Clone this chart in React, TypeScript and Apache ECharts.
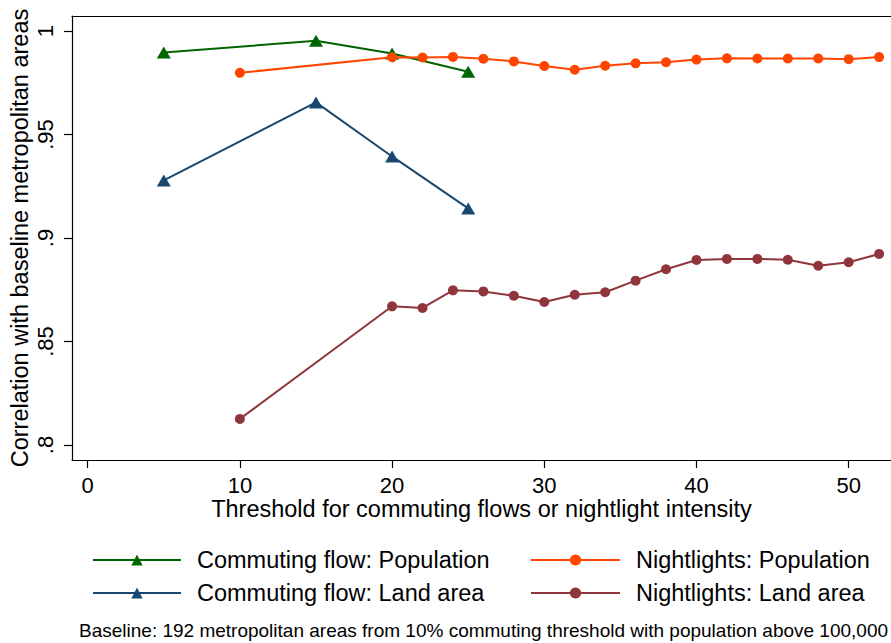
import React, { useEffect, useRef } from "react";
import * as echarts from "echarts";

const xTicks = [0, 10, 20, 30, 40, 50];
const yTicks = [0.8, 0.85, 0.9, 0.95, 1];

const cfX = [5, 15, 20, 25];
const cfPop = [0.9896, 0.9953, 0.9891, 0.9803];
const cfLand = [0.9278, 0.9655, 0.9394, 0.9143];

const nlX = [10, 20, 22, 24, 26, 28, 30, 32, 34, 36, 38, 40, 42, 44, 46, 48, 50, 52];
const nlPop = [0.9798, 0.9873, 0.9872, 0.9875, 0.9866, 0.9853, 0.9831, 0.9813, 0.9832, 0.9844, 0.9849, 0.9862, 0.9868, 0.9867, 0.9867, 0.9867, 0.9864, 0.9874];
const nlLand = [0.8126, 0.867, 0.8662, 0.8747, 0.8742, 0.8721, 0.8691, 0.8726, 0.8738, 0.8794, 0.8849, 0.8894, 0.8899, 0.8899, 0.8895, 0.8866, 0.8883, 0.8923];

const names = [
  "Commuting flow: Population",
  "Nightlights: Population",
  "Commuting flow: Land area",
  "Nightlights: Land area",
];
const colors = ["#006400", "#ff4500", "#1a476f", "#90353b"];

const FONT = "'Liberation Sans', Arial, Helvetica, sans-serif";

function pairs(xs: number[], ys: number[]) {
  return xs.map((x, i) => [x, ys[i]]);
}

export default function App() {
  const ref = useRef<HTMLDivElement>(null);
  useEffect(() => {
    document.body.style.margin = "0";
    if (!ref.current) return;
    const chart = echarts.init(ref.current, undefined, { renderer: "svg" });
    const fmtY = (v: number) => {
      const s = String(Math.round(v * 100) / 100);
      return s.startsWith("0") ? s.slice(1) : s;
    };
    const mkSeries = (i: number, xs: number[], ys: number[], tri: boolean) => ({
      type: "line",
      name: names[i],
      data: pairs(xs, ys),
      symbol: tri ? "triangle" : "circle",
      symbolSize: tri ? [14, 12] : 10,
      showSymbol: true,
      lineStyle: { color: colors[i], width: 2 },
      itemStyle: { color: colors[i] },
      z: 2 + i,
    });
    const legendText = {
      fontFamily: FONT,
      fontSize: 23.5,
      color: "#000",
      lineHeight: 26,
      padding: [0, 0, 0, 11],
    };
    chart.setOption({
      animation: false,
      grid: { left: 72, right: 0, top: 16, bottom: 183, outerBoundsMode: "none", containLabel: false },
      xAxis: [
        {
          type: "value",
          min: -1.03,
          max: 52.78,
          name: "Threshold for commuting flows or nightlight intensity",
          nameLocation: "middle",
          nameGap: 37,
          nameMoveOverlap: false,
          nameTextStyle: { fontFamily: FONT, fontSize: 23.5, color: "#000" },
          axisLine: { show: true, onZero: false, lineStyle: { color: "#000", width: 1.2 } },
          axisTick: { show: true, length: 8, customValues: xTicks, lineStyle: { color: "#000", width: 1.2 } },
          axisLabel: {
            customValues: xTicks,
            fontFamily: FONT,
            fontSize: 22,
            color: "#000",
            margin: 14,
          },
          splitLine: { show: false },
        },
        {
          type: "value",
          position: "top",
          min: -1.03,
          max: 52.78,
          axisLine: { show: true, onZero: false, lineStyle: { color: "#000", width: 1.2 } },
          axisTick: { show: false },
          axisLabel: { show: false },
          splitLine: { show: false },
        },
      ],
      yAxis: {
        type: "value",
        min: 0.79275,
        max: 1.00725,
        name: "Correlation with baseline metropolitan areas",
        nameLocation: "middle",
        nameRotate: 90,
        nameGap: 40,
        nameMoveOverlap: false,
        nameTextStyle: { fontFamily: FONT, fontSize: 23.5, color: "#000" },
        axisLine: { show: true, onZero: false, lineStyle: { color: "#000", width: 1.2 } },
        axisTick: { show: true, length: 8, customValues: yTicks, lineStyle: { color: "#000", width: 1.2 } },
        axisLabel: {
          customValues: yTicks,
          rotate: 90,
          fontFamily: FONT,
          fontSize: 22,
          color: "#000",
          margin: 16,
          formatter: fmtY,
        },
        splitLine: { show: false },
      },
      legend: [
        {
          data: [names[0], names[2]],
          orient: "vertical",
          left: 92,
          top: 547,
          padding: 0,
          itemWidth: 88,
          itemHeight: 14,
          itemGap: 7,
          textStyle: legendText,
        },
        {
          data: [names[1], names[3]],
          orient: "vertical",
          left: 530,
          top: 547,
          padding: 0,
          itemWidth: 89,
          itemHeight: 14,
          itemGap: 7,
          textStyle: legendText,
        },
      ],
      graphic: [
        {
          type: "text",
          left: 79,
          top: 621,
          style: {
            text: "Baseline: 192 metropolitan areas from 10% commuting threshold with population above 100,000",
            fontFamily: FONT,
            fontSize: 19,
            fill: "#000",
          },
        },
      ],
      series: [
        mkSeries(0, cfX, cfPop, true),
        mkSeries(1, nlX, nlPop, false),
        mkSeries(2, cfX, cfLand, true),
        mkSeries(3, nlX, nlLand, false),
      ],
    });
    return () => chart.dispose();
  }, []);
  return <div ref={ref} style={{ width: 891, height: 643 }} />;
}
